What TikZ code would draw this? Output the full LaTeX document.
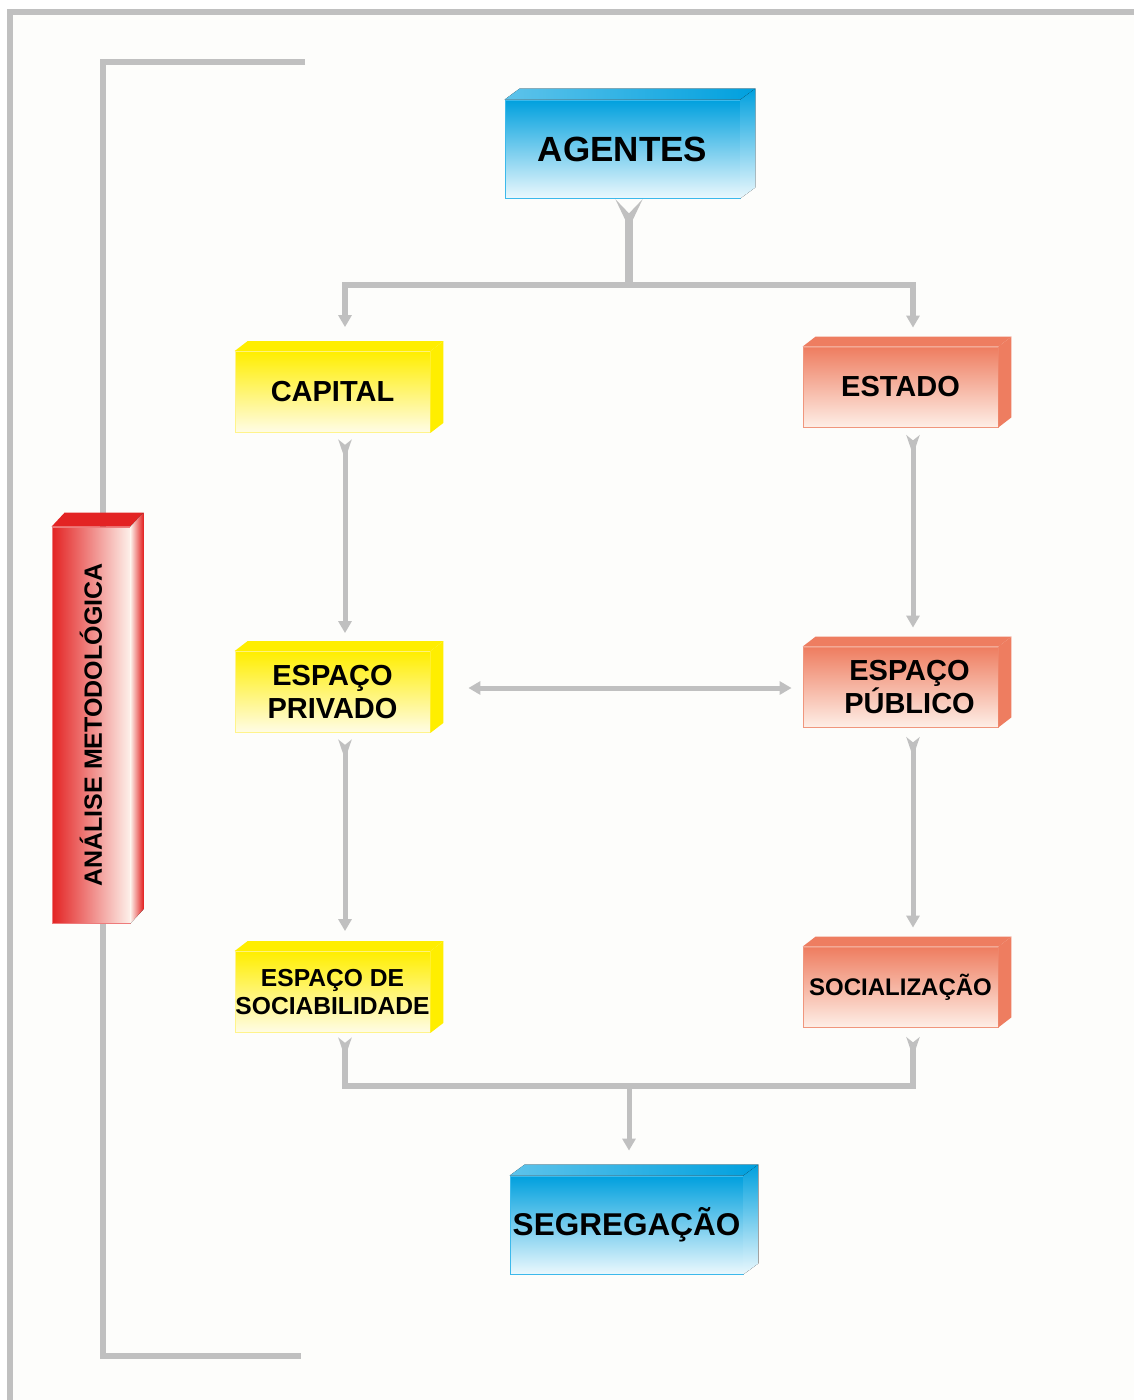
\documentclass[tikz,border=0pt]{standalone}
\usepackage{fontspec}
\setmainfont{Liberation Sans}
\usepackage{tikz}
\usetikzlibrary{calc,arrows.meta}
\definecolor{blue_top}{RGB}{0,160,222}
\definecolor{blue_bot}{RGB}{234,248,253}
\definecolor{blue_edge}{RGB}{60,185,235}
\definecolor{yellow_top}{RGB}{255,238,0}
\definecolor{yellow_bot}{RGB}{255,252,230}
\definecolor{yellow_edge}{RGB}{255,244,140}
\definecolor{salmon_top}{RGB}{238,125,96}
\definecolor{salmon_bot}{RGB}{254,238,230}
\definecolor{salmon_edge}{RGB}{240,150,125}
\definecolor{red_top}{RGB}{227,35,35}
\definecolor{red_bot}{RGB}{253,240,234}
\definecolor{line_gray}{RGB}{192,192,192}
\definecolor{paper}{RGB}{253,253,251}

\newcommand{\sidefaces}[5]{%
  \fill[#4] (#1.north west) -- ++(#2,-#3) -- ($(#1.north east)+(#2,-#3)$) -- (#1.north east) -- cycle;
  \fill[#5] (#1.north east) -- ++(#2,-#3) -- ($(#1.south east)+(#2,-#3)$) -- (#1.south east) -- cycle;
}

\tikzset{
  box/.style={inner sep=0pt, align=center, line width=0.8pt},
  bluebox/.style={box, draw=blue_edge, top color=blue_top, bottom color=blue_bot, minimum width=235pt, minimum height=98pt},
  yellowbox/.style={box, draw=yellow_edge, top color=yellow_top, bottom color=yellow_bot, minimum width=195pt, minimum height=81pt},
  salmonbox/.style={box, draw=salmon_edge, top color=salmon_top, bottom color=salmon_bot, minimum width=195pt, minimum height=80pt},
  link/.style={draw=line_gray, line width=5pt},
  bracket/.style={draw=line_gray, line width=6pt},
  forktip/.tip={Stealth[reversed,width=13pt,length=19.5pt,inset=5pt]},
  bigforktip/.tip={Stealth[reversed,width=27pt,length=28.4pt,inset=14pt]},
  headtip/.tip={Triangle[width=13pt,length=12pt]},
  forked/.style={link, forktip-headtip, preaction={draw=line_gray, line width=5pt, -, shorten <=5pt, shorten >=11pt}},
}

\begin{document}
\begin{tikzpicture}[x=1pt,y=-1pt]
  \useasboundingbox (0,0) rectangle (1134,1400);
  \fill[white] (0,0) rectangle (1134,1400);
  \fill[paper] (10,12) rectangle (1134,1400);
  \draw[bracket, line width=6.5pt] (1134,12) -- (10,12) -- (10,1400);
  \draw[bracket] (305,62) -- (103,62) -- (103,1356) -- (301,1356);

  \node[bluebox, font=\bfseries\fontsize{35}{38}\selectfont] (agentes) at (622.5,149) {AGENTES};
  \node[yellowbox, font=\bfseries\fontsize{29}{33}\selectfont] (capital) at (332.5,392) {CAPITAL};
  \node[salmonbox, font=\bfseries\fontsize{29}{33}\selectfont] (estado) at (900.5,387) {ESTADO};
  \node[yellowbox, font=\bfseries\fontsize{29}{33}\selectfont] (privado) at (332.5,692) {ESPAÇO\\PRIVADO};
  \node[salmonbox, font=\bfseries\fontsize{29}{33}\selectfont] (publico) at (900.5,687) {\hspace*{18pt}ESPAÇO\\\hspace*{18pt}PÚBLICO};
  \node[yellowbox, font=\bfseries\fontsize{24.6}{28}\selectfont] (sociab) at (332.5,992) {ESPAÇO DE\\SOCIABILIDADE};
  \node[salmonbox, font=\bfseries\fontsize{24}{28}\selectfont] (social) at (900.5,987) {SOCIALIZAÇÃO};
  \node[bluebox, font=\bfseries\fontsize{31.5}{34}\selectfont, minimum width=233pt] (segreg) at (626.5,1225) {SEGREGAÇÃO};
  \node[box, draw=red_top!60, rotate=90, left color=red_top, right color=red_bot, minimum width=396pt, minimum height=78pt, font=\bfseries\fontsize{25}{28}\selectfont] (analise) at (91,725) {ANÁLISE METODOLÓGICA};

  \sidefaces{agentes}{15}{11}{left color=blue_bot!40!blue_top, right color=blue_top}{top color=blue_top, bottom color=blue_bot}
  \sidefaces{segreg}{15}{11}{left color=blue_bot!40!blue_top, right color=blue_top}{top color=blue_top, bottom color=blue_bot}
  \sidefaces{capital}{13}{10}{yellow_top}{yellow_top}
  \sidefaces{privado}{13}{10}{yellow_top}{yellow_top}
  \sidefaces{sociab}{13}{10}{yellow_top}{yellow_top}
  \sidefaces{estado}{13}{10}{salmon_top}{salmon_top}
  \sidefaces{publico}{13}{10}{salmon_top}{salmon_top}
  \sidefaces{social}{13}{10}{salmon_top}{salmon_top}
  \fill[red_top] (analise.north east) -- ++(13,-14) -- ($(analise.south east)+(13,-14)$) -- (analise.south east) -- cycle;
  \fill[left color=red_bot, right color=red_top] (analise.south east) -- ++(13,-14) -- ($(analise.south west)+(13,-14)$) -- (analise.south west) -- cycle;

  \coordinate (split) at (629,285);
  \coordinate (merge) at (629,1085);
  \draw[link, line width=8pt, bigforktip-, preaction={draw=line_gray, line width=8pt, -, shorten <=14pt}] ([xshift=6.5pt,yshift=-1pt]agentes.south) -- (split);
  \draw[link, line width=6pt, -headtip] (split) -| ([xshift=12.5pt,yshift=24pt]capital.north);
  \draw[link, line width=6pt, -headtip] (split) -| ([xshift=12.5pt,yshift=19pt]estado.north);
  \draw[forked] ([xshift=12.5pt,yshift=-7pt]capital.south) -- ([xshift=12.5pt,yshift=18pt]privado.north);
  \draw[forked] ([xshift=12.5pt,yshift=-8pt]estado.south) -- ([xshift=12.5pt,yshift=19pt]publico.north);
  \draw[link, headtip-headtip] ([xshift=38pt,yshift=4pt]privado.east) -- ([xshift=-11pt,yshift=-1pt]publico.west);
  \draw[forked] ([xshift=12.5pt,yshift=-7pt]privado.south) -- ([xshift=12.5pt,yshift=20pt]sociab.north);
  \draw[forked] ([xshift=12.5pt,yshift=-10pt]publico.south) -- ([xshift=12.5pt,yshift=19pt]social.north);
  \draw[link, line width=6pt, forktip-forktip, preaction={draw=line_gray, line width=6pt, -, shorten <=5pt, shorten >=5pt}] ([xshift=12.5pt,yshift=-5pt]sociab.south) -- ++(0,48) -| ([xshift=12.5pt,yshift=-10pt]social.south);
  \draw[link, -headtip] (merge) -- ([xshift=2.5pt,yshift=25pt]segreg.north);
\end{tikzpicture}
\end{document}
